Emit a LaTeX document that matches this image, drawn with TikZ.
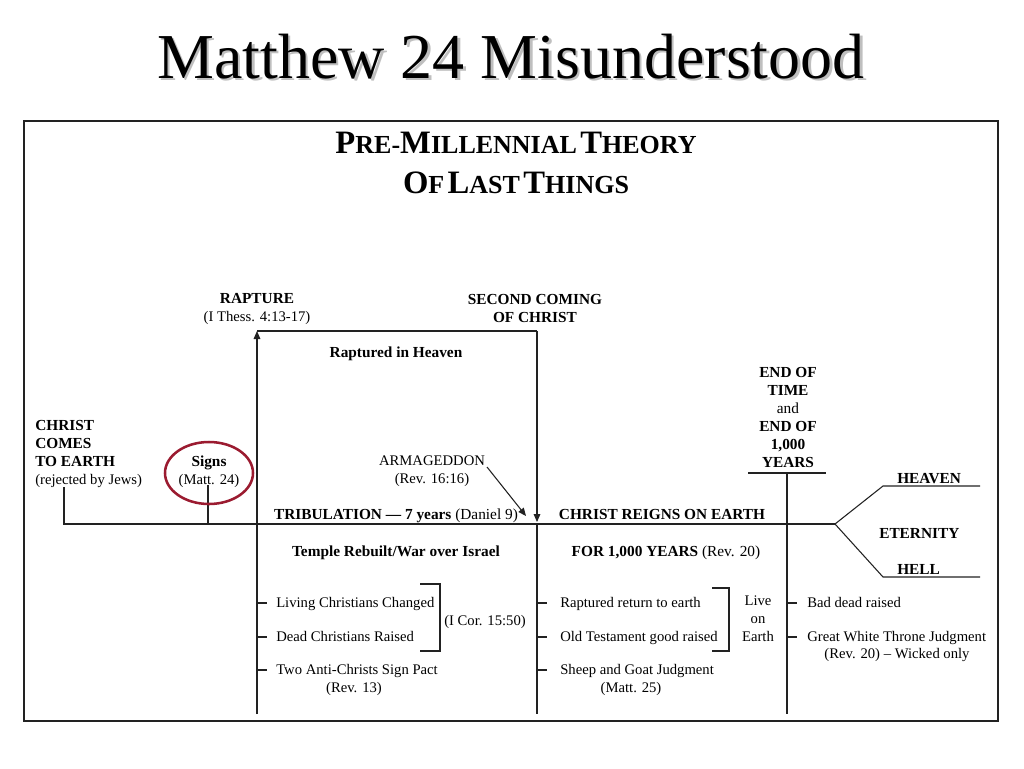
\documentclass[tikz,border=0pt]{standalone}
\usepackage{fontspec}
\setmainfont{Liberation Serif}
\usetikzlibrary{arrows.meta,shapes.geometric}
\newcommand{\fsc}[2]{{\fontsize{24.5}{28}\selectfont #1}{\fontsize{19.5}{22}\selectfont #2}}
\definecolor{ringred}{HTML}{9B1B30}
\definecolor{ink}{HTML}{222222}
\begin{document}
\begin{tikzpicture}[x=0.75pt,y=-0.75pt,
  txt/.style={font=\fontsize{11}{13.3}\selectfont, inner sep=0pt, anchor=base, align=center, text=black},
  btxt/.style={txt, font=\fontsize{11.5}{13.5}\selectfont\bfseries},
  ltxt/.style={txt, anchor=base west, align=left},
  line/.style={draw=ink, line width=0.8pt},
  arr/.style={line, -{Triangle[length=6pt,width=5pt]}},
  frame/.style={draw=ink, line width=1.2pt},
  ring/.style={ellipse, draw=ringred, line width=1.9pt, minimum width=66pt, minimum height=46.5pt, inner sep=0pt}
]
\useasboundingbox (0,0) rectangle (1024,768);
\fill[white] (0,0) rectangle (1024,768);
% title
\node[anchor=base, inner sep=0pt, text=gray!50, font=\fontsize{48}{56}\selectfont] (titleshadow) at (513.5,80.5) {Matthew 24 Misunderstood};
\node[anchor=base, inner sep=0pt, font=\fontsize{48}{56}\selectfont] (title) at (511,78) {Matthew 24 Misunderstood};
% frame
\draw[frame] (24,121) rectangle (998,721);
\node[anchor=base, inner sep=0pt, font=\bfseries] (sub1) at (516,153) {\fsc{P}{RE-}\fsc{M}{ILLENNIAL} \fsc{T}{HEORY}};
\node[anchor=base, inner sep=0pt, font=\bfseries] (sub2) at (516,193) {\fsc{O}{F} \fsc{L}{AST} \fsc{T}{HINGS}};

% coordinates
\coordinate (cc) at (64,487);
\coordinate (ccb) at (64,524);
\coordinate (br) at (835,524);
\coordinate (hv1) at (883,486);
\coordinate (hv2) at (980,486);
\coordinate (hl1) at (883,577);
\coordinate (hl2) at (980,577);
\coordinate (sg) at (208,485);
\coordinate (sgb) at (208,524);
\coordinate (rb) at (257,714);
\coordinate (rt) at (257,331);
\coordinate (st) at (537,331);
\coordinate (sm) at (537,522);
\coordinate (sm2) at (537,524);
\coordinate (sb) at (537,714);
\coordinate (aa) at (487,467);
\coordinate (ea) at (526,516);
\coordinate (eb1) at (748,473);
\coordinate (eb2) at (826,473);
\coordinate (em) at (787,473);
\coordinate (ebot) at (787,714);

% main lines
\draw[line] (cc) -- (ccb) -- (br);
\draw[line] (br) -- (hv1) -- (hv2);
\draw[line] (br) -- (hl1) -- (hl2);
\draw[line] (sg) -- (sgb);
\draw[arr] (rb) -- (rt);
\draw[line] (rt) -- (st);
\draw[arr] (st) -- (sm);
\draw[line] (sm2) -- (sb);
\draw[line] (eb1) -- (eb2);
\draw[line] (em) -- (ebot);
\draw[arr] (aa) -- (ea);

% labels upper
\node[txt] (rapture) at (257,321) {{\fontsize{11.5}{13.5}\selectfont\bfseries RAPTURE}\\(I Thess. 4:13-17)};
\node[btxt] (second) at (535,322) {SECOND COMING\\OF CHRIST};
\node[btxt] (heaven1) at (396,357) {Raptured in Heaven};
\node[txt] (christ) at (35,484) [anchor=base west, align=left] {{\fontsize{11.5}{13.5}\selectfont\bfseries CHRIST}\\{\fontsize{11.5}{13.5}\selectfont\bfseries COMES}\\{\fontsize{11.5}{13.5}\selectfont\bfseries TO EARTH}\\(rejected by Jews)};
\node[txt] (signs) at (209,484) {{\fontsize{11.5}{13.5}\selectfont\bfseries Signs}\\(Matt. 24)};
\node[ring] (ringnode) at (209,473) {};
\node[txt] (armag) at (432,483) {ARMAGEDDON\\(Rev. 16:16)};
\node[txt] (endtime) at (788,467) [font=\fontsize{11.5}{13.5}\selectfont] {\bfseries END OF\\\bfseries TIME\\and\\\bfseries END OF\\\bfseries 1,000\\\bfseries YEARS};
\node[btxt] (trib) at (396,519) {TRIBULATION --- 7 years {\mdseries (Daniel 9)}};
\node[btxt] (reigns) at (662,519) {CHRIST REIGNS ON EARTH};
\node[btxt] (temple) at (396,556) {Temple Rebuilt/War over Israel};
\node[btxt] (for1000) at (666,556) {FOR 1,000 YEARS {\mdseries (Rev. 20)}};
\node[btxt, anchor=base west] (heavenR) at (897,483) {HEAVEN};
\node[btxt, anchor=base west] (eternity) at (879,538) {ETERNITY};
\node[btxt, anchor=base west] (hell) at (897,574) {HELL};

% lower left list
\foreach \y/\n in {603/a,637/b,670/c} {\draw[line] (257,\y) coordinate (lt\n) -- (267,\y);}
\node[ltxt] (living) at (276,607) {Living Christians Changed};
\node[ltxt] (dead) at (276,641) {Dead Christians Raised};
\node[ltxt] (two) at (276,674) {Two Anti-Christs Sign Pact};
\node[txt] (rev13) at (354,692) {(Rev. 13)};
\coordinate (b1a) at (420,584); \coordinate (b1b) at (440,584);
\coordinate (b1c) at (440,651); \coordinate (b1d) at (420,651);
\draw[line] (b1a) -- (b1b) -- (b1c) -- (b1d);
\node[ltxt] (icor) at (444,625) {(I Cor. 15:50)};

% lower middle list
\foreach \y/\n in {603/a,637/b,670/c} {\draw[line] (537,\y) coordinate (mt\n) -- (547,\y);}
\node[ltxt] (raptret) at (560,607) {Raptured return to earth};
\node[ltxt] (oldtest) at (560,641) {Old Testament good raised};
\node[ltxt] (sheep) at (560,674) {Sheep and Goat Judgment};
\node[txt] (matt25) at (631,692) {(Matt. 25)};
\coordinate (b2a) at (712,588); \coordinate (b2b) at (729,588);
\coordinate (b2c) at (729,651); \coordinate (b2d) at (712,651);
\draw[line] (b2a) -- (b2b) -- (b2c) -- (b2d);
\node[txt] (live) at (758,641) {Live\\on\\Earth};

% lower right list
\foreach \y/\n in {603/a,637/b} {\draw[line] (787,\y) coordinate (rt\n) -- (797,\y);}
\node[ltxt] (baddead) at (807,607) {Bad dead raised};
\node[ltxt] (gwt) at (807,641) {Great White Throne Judgment};
\node[txt] (wicked) at (897,658) {(Rev. 20) -- Wicked only};
\end{tikzpicture}
\end{document}
